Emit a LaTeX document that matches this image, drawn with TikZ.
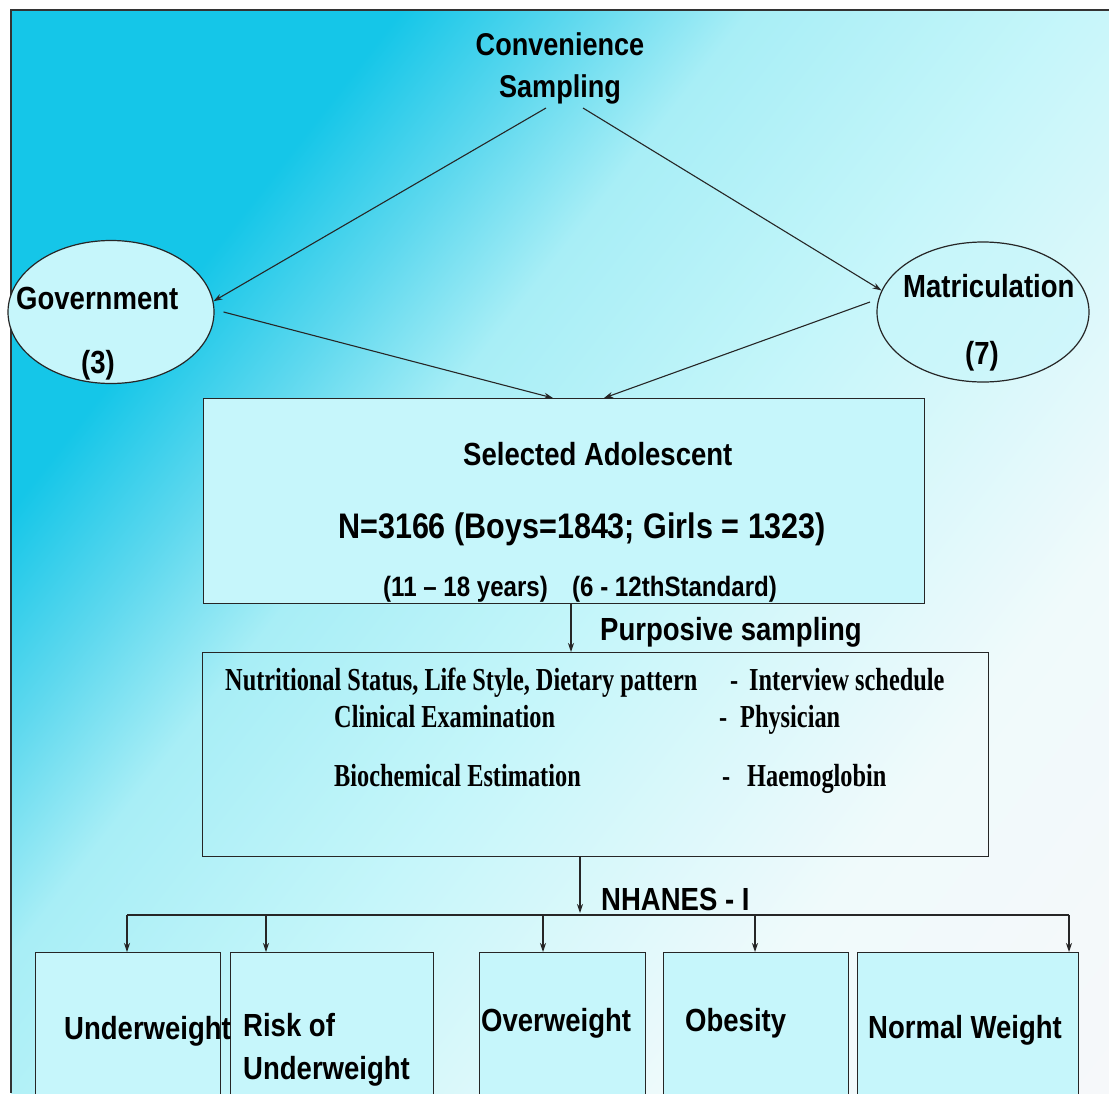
\documentclass[tikz,border=0pt]{standalone}
\usepackage{fontspec}
\newfontfamily\sfb{Liberation Sans}[FakeStretch=0.86]
\newfontfamily\rmb{Liberation Serif}[FakeStretch=0.76]
\usetikzlibrary{shapes.geometric,arrows.meta,calc}
\definecolor{bgA}{HTML}{15C6E8}
\definecolor{bgB}{HTML}{5DD8EE}
\definecolor{bgC}{HTML}{A8EEF6}
\definecolor{bgD}{HTML}{C6F6FA}
\definecolor{bgE}{HTML}{F0FAFB}
\definecolor{bgF}{HTML}{F6F8FA}
\definecolor{boxfill}{HTML}{C6F6FB}
\pgfdeclarehorizontalshading{bgsh}{100bp}{color(0bp)=(bgA); color(29bp)=(bgA); color(35.3bp)=(bgB); color(41.6bp)=(bgC); color(53.5bp)=(bgD); color(69.7bp)=(bgE); color(85bp)=(bgF); color(100bp)=(bgF)}
\begin{document}
\begin{tikzpicture}[x=1pt,y=-1pt,
  ss/.style={inner sep=0pt, anchor=base west, font=\sfb\bfseries\fontsize{32}{38}\selectfont},
  rs/.style={inner sep=0pt, anchor=base west, font=\rmb\bfseries\fontsize{32}{38}\selectfont},
  boxn/.style={draw=black!85, line width=1.2pt, fill=boxfill, rectangle, inner sep=0pt, anchor=north west},
  boxo/.style={draw=black!85, line width=1.2pt, rectangle, inner sep=0pt, anchor=north west},
  ell/.style={draw=black!85, line width=1.2pt, fill=boxfill, ellipse, inner sep=0pt},
  arr/.style={draw=black!85, line width=1.1pt, -{Stealth[length=9pt,width=6pt]}},
  ln/.style={draw=black!85, line width=1.1pt}
]
\useasboundingbox (0,0) rectangle (1109,1093);
\clip (0,0) rectangle (1109,1093);
\fill[white] (0,0) rectangle (1109,1093);
\shade[shading=bgsh, shading angle=-38] (11,10) rectangle (1109,1093);
\draw[line width=1.2pt, black!80] (11,1093) -- (11,10) -- (1109,10);

% top
\node[ss, anchor=base, font=\sfb\bfseries\fontsize{31.5}{38}\selectfont] (conv) at (560,55) {Convenience};
\node[ss, anchor=base, font=\sfb\bfseries\fontsize{31.5}{38}\selectfont] (samp) at (560,97) {Sampling};
\coordinate (c1) at (546,108);
\coordinate (c2) at (583,108);

% ellipses
\node[ell, minimum width=206pt, minimum height=143pt] (gov) at (111,312) {};
\node[ell, minimum width=212pt, minimum height=140pt, fill opacity=0.6] (mat) at (983,312) {};
\node[ss] (govt) at (16,309) {Government};
\node[ss] (gov3) at (81,373) {(3)};
\node[ss] (matt) at (903,297) {Matriculation};
\node[ss] (mat7) at (965,364) {(7)};

% selected box
\node[boxn, minimum width=721pt, minimum height=205pt] (sel) at (203,398) {};
\node[ss] (selt) at (463,465) {Selected Adolescent};
\node[ss, font=\sfb\bfseries\fontsize{35.5}{42}\selectfont] (nline) at (338,538) {N=3166 (Boys=1843; Girls = 1323)};
\node[ss, font=\sfb\bfseries\fontsize{28}{34}\selectfont] (age) at (383,596) {(11 – 18 years)};
\node[ss, font=\sfb\bfseries\fontsize{28}{34}\selectfont] (std) at (572,596) {(6 - 12thStandard)};

\coordinate (s1) at (553,398);
\coordinate (s2) at (604,398);
\coordinate (m1) at (870,302);
\draw[arr] (c1) -- (gov.6);
\draw[arr] (c2) -- (mat.168);
\draw[arr] ([xshift=9pt]gov.east) -- (s1);
\draw[arr] (m1) -- (s2);

% purposive
\node[ss] (purp) at (600,640) {Purposive sampling};
\node[boxo, minimum width=786pt, minimum height=204pt] (meth) at (202,652) {};
\coordinate (p1) at (571,0);
\draw[arr] (sel.south -| p1) -- (meth.north -| p1);

\node[rs] (l1a) at (225,690) {Nutritional Status, Life Style, Dietary pattern};
\node[rs] (l1b) at (730,690) {-};
\node[rs] (l1c) at (749,690) {Interview schedule};
\node[rs] (l2a) at (334,727) {Clinical Examination};
\node[rs] (l2b) at (719,727) {-};
\node[rs] (l2c) at (740,727) {Physician};
\node[rs] (l3a) at (334,786) {Biochemical Estimation};
\node[rs] (l3b) at (722,786) {-};
\node[rs] (l3c) at (747,786) {Haemoglobin};

% NHANES
\coordinate (n1) at (580,0);
\coordinate (hb) at (580,915);
\draw[arr] (meth.south -| n1) -- ([yshift=2pt]hb);
\node[ss] (nh) at (601,910) {NHANES - I};

% bottom boxes
\node[boxn, minimum width=185pt, minimum height=170pt] (b1) at (35,952) {};
\node[boxn, minimum width=203pt, minimum height=170pt] (b2) at (230,952) {};
\node[boxn, minimum width=166pt, minimum height=170pt] (b3) at (479,952) {};
\node[boxn, minimum width=185pt, minimum height=170pt] (b4) at (663,952) {};
\node[boxn, minimum width=221pt, minimum height=170pt] (b5) at (857,952) {};

\coordinate (h1) at (127,915);
\coordinate (h2) at (266,915);
\coordinate (h3) at (543,915);
\coordinate (h4) at (755,915);
\coordinate (h5) at (1069,915);
\draw[ln] (h1) -- (h5);
\draw[arr] (h1) -- (b1.north -| h1);
\draw[arr] (h2) -- (b2.north -| h2);
\draw[arr] (h3) -- (b3.north -| h3);
\draw[arr] (h4) -- (b4.north -| h4);
\draw[arr] (h5) -- (b5.north -| h5);

\node[ss] (t1) at (64,1039) {Underweight};
\node[ss] (t2a) at (243,1036) {Risk of};
\node[ss] (t2b) at (243,1079) {Underweight};
\node[ss] (t3) at (481,1031) {Overweight};
\node[ss] (t4) at (685,1031) {Obesity};
\node[ss] (t5) at (868,1038) {Normal Weight};
\end{tikzpicture}
\end{document}
